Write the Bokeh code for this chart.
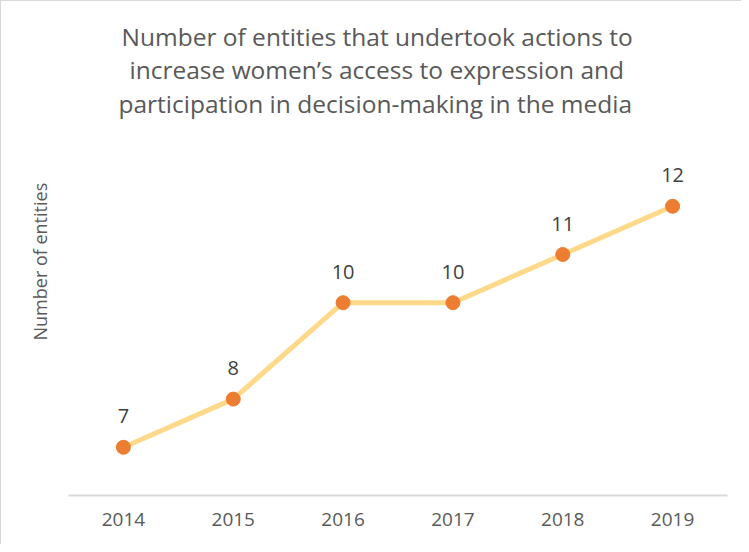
from bokeh.plotting import figure
from bokeh.models import ColumnDataSource, Range1d, Title
from bokeh.core.properties import value
from bokeh.embed import file_html
from bokeh.resources import INLINE

years = ["2014", "2015", "2016", "2017", "2018", "2019"]
entities = [7, 8, 10, 10, 11, 12]
title_lines = [
    "Number of entities that undertook actions to",
    "increase women\u2019s access to expression and",
    "participation in decision-making in the media",
]
y_label = "Number of entities"

FONT = "Open Sans"
W, H = 741, 544
ML, MR, MT, MB = 67, 15, 118, 50
PX_PER_UNIT = 48.2
Y0 = 6
Y1 = Y0 + (H - MT - MB) / PX_PER_UNIT

title_offsets = [53, 61, 50]
title_standoffs = [-2.5, -2.5, 0]

src = ColumnDataSource(dict(x=years, y=entities, t=[str(v) for v in entities]))

p = figure(x_range=years, y_range=Range1d(Y0, Y1), width=W, height=H,
           output_backend="svg", toolbar_location=None,
           min_border_left=ML, min_border_right=MR, min_border_top=MT, min_border_bottom=MB)
p.outline_line_color = None
p.grid.grid_line_color = None
p.background_fill_color = "white"
p.border_fill_color = "white"
p.styles = {"border-left": "1px solid #d9d9d9", "border-top": "1px solid #d9d9d9"}

p.yaxis.visible = False

xa = p.xaxis[0]
xa.axis_line_color = "#d9d9d9"
xa.axis_line_width = 2
xa.major_tick_line_color = None
xa.minor_tick_line_color = None
xa.major_label_text_font = FONT
xa.major_label_text_font_size = "19px"
xa.major_label_text_color = "#595959"
xa.major_label_standoff = 11

p.line("x", "y", source=src, line_color="#FFD98A", line_width=5)
p.scatter("x", "y", source=src, size=14, fill_color="#ED7D31", line_color="#ED7D31")
p.text("x", "y", text="t", source=src, y_offset=-31, text_align="center",
       text_baseline="middle", text_font=value(FONT), text_font_size="20px",
       text_color="#404040")

# title lines, nearest to the frame first
for line, off, so in reversed(list(zip(title_lines, title_offsets, title_standoffs))):
    p.add_layout(Title(text=line, align="left", text_font=FONT,
                       text_font_size="24.5px", text_font_style="normal",
                       text_color="#595959", offset=off, standoff=so), "above")

p.add_layout(Title(text=y_label, align="left", text_font=FONT,
                   text_font_size="18px", text_font_style="normal",
                   text_color="#595959", offset=155, standoff=34), "left")

open("out.html", "w").write(file_html(p, INLINE))
